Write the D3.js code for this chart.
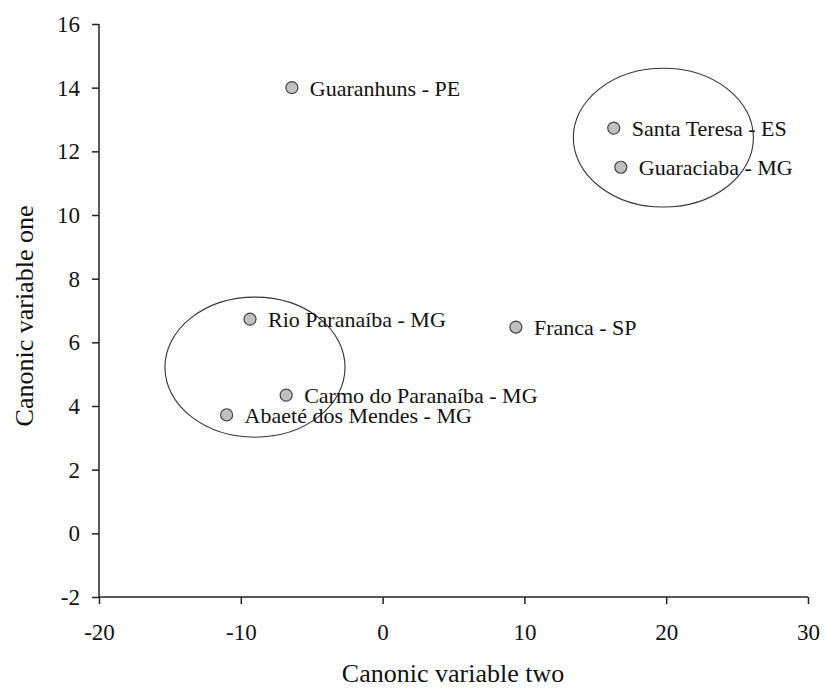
<!DOCTYPE html>
<html><head><meta charset="utf-8">
<script src="https://cdn.jsdelivr.net/npm/d3@7"></script>
<style>body{margin:0;background:#fff}svg{display:block}</style>
</head><body>
<script>
const names = ["Guaranhuns - PE","Santa Teresa - ES","Guaraciaba - MG","Rio Paranaíba - MG","Franca - SP","Carmo do Paranaíba - MG","Abaeté dos Mendes - MG"];
const varTwo = [-6.4, 16.3, 16.8, -9.35, 9.4, -6.8, -11.0];
const varOne = [14.0, 12.73, 11.5, 6.73, 6.48, 4.34, 3.72];
const groupCx = [19.8, -9.0];
const groupCy = [12.43, 5.22];
const groupRx = [6.35, 6.35];
const groupRy = [2.18, 2.2];
const xTicks = [-20,-10,0,10,20,30];
const yTicks = [-2,0,2,4,6,8,10,12,14,16];

const W=825,H=689;
const svg=d3.select("body").append("svg").attr("width",W).attr("height",H);
const x=d3.scaleLinear().domain([-20,30]).range([99,808]);
const y=d3.scaleLinear().domain([-2,16]).range([597,24]);
const font="'Liberation Serif','Times New Roman',serif";

const gx=svg.append("g").attr("transform","translate(0,597)")
  .call(d3.axisBottom(x).tickValues(xTicks).tickSize(7).tickFormat(d=>String(d)));
const gy=svg.append("g").attr("transform","translate(99,0)")
  .call(d3.axisLeft(y).tickValues(yTicks).tickSize(7).tickFormat(d=>String(d)));
[gx,gy].forEach(g=>{
  g.select(".domain").attr("stroke","#222").attr("stroke-width",1.5);
  g.selectAll(".tick line").attr("stroke","#222").attr("stroke-width",1.5);
  g.selectAll("text").attr("font-family",font).attr("font-size",23).attr("fill","#111");
});
gx.selectAll(".tick text").attr("y",43).attr("dy",0);
gy.selectAll(".tick text").attr("x",-19).attr("dy","0.33em");
gx.select(".domain").attr("d","M99,0H808");
gy.select(".domain").attr("d","M0,24V597");

svg.append("text").attr("x",453).attr("y",682).attr("text-anchor","middle")
  .attr("font-family",font).attr("font-size",26).attr("fill","#111").text("Canonic variable two");
svg.append("text").attr("transform","translate(33,316) rotate(-90)").attr("text-anchor","middle")
  .attr("font-family",font).attr("font-size",26).attr("fill","#111").text("Canonic variable one");

svg.selectAll("ellipse").data(groupCx).enter().append("ellipse")
  .attr("cx",(d,i)=>x(d)).attr("cy",(d,i)=>y(groupCy[i]))
  .attr("rx",(d,i)=>x(groupRx[i])-x(0)).attr("ry",(d,i)=>y(0)-y(groupRy[i]))
  .attr("fill","none").attr("stroke","#333").attr("stroke-width",1.1);

const pts=names.map((n,i)=>({n,x:varTwo[i],y:varOne[i]}));
svg.selectAll("circle.p").data(pts).enter().append("circle").attr("class","p")
  .attr("cx",d=>x(d.x)).attr("cy",d=>y(d.y)).attr("r",6)
  .attr("fill","#c0c0c0").attr("stroke","#444").attr("stroke-width",1.2);
svg.selectAll("text.l").data(pts).enter().append("text").attr("class","l")
  .attr("x",d=>x(d.x)+18).attr("y",d=>y(d.y)+8)
  .attr("font-family",font).attr("font-size",22).attr("fill","#111").text(d=>d.n);
</script>
</body></html>
